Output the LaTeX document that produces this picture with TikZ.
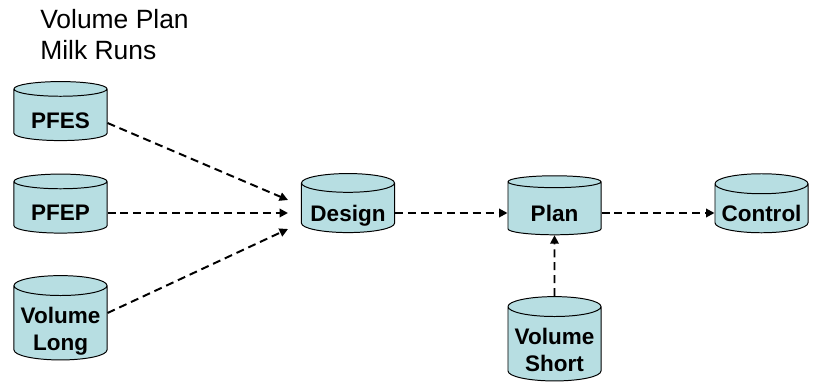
\documentclass[tikz,border=0pt]{standalone}
\usepackage{fontspec}
\setmainfont{Liberation Sans}
\usepackage{tikz}
\usetikzlibrary{shapes.geometric,arrows.meta,positioning}

\definecolor{drumfill}{RGB}{183,222,226}

\begin{document}
\begin{tikzpicture}[
    x=0.025cm, y=-0.025cm,
    drum/.style={cylinder, shape border rotate=90, aspect=0.25, draw, line width=0.7pt,
        fill=drumfill, minimum width=2.325cm, minimum height=1.475cm, inner sep=0pt,
        text height=18.8pt, text depth=0pt,
        align=center, font=\fontsize{16}{19}\selectfont\bfseries},
    tall/.style={minimum height=2cm, text height=38.4pt},
    flow/.style={-{Triangle[length=6pt,width=6pt]}, line width=1.4pt, dash pattern=on 5.7pt off 3.5pt}
]
\useasboundingbox (0,0) rectangle (816,387);

% Heading
\node[anchor=north west, align=left, inner sep=0pt, font=\fontsize{18.8}{22}\selectfont] (title) at (40,9) {Volume Plan\\Milk Runs};

% Sources on the left
\node[drum] (pfes) at (60.5,115) {PFES};
\node[drum] (pfep) at (60.5,207.5) {PFEP};
\node[drum, tall] (vlong) at (60.5,323) {Volume\\Long};

% Main chain
\node[drum] (design) at (348,208) {Design};
\node[drum] (plan) at (554.5,208.5) {Plan};
\node[drum] (control) at (761.5,208.5) {Control};
\node[drum, tall] (vshort) at (554.5,344) {Volume\\Short};

% Arrow ends in front of Design
\coordinate (d-top) at (288,200);
\coordinate (d-mid) at (288,213);
\coordinate (d-low) at (288,229);

% Arrows into Design
\draw[flow] ([yshift=-0.2cm]pfes.east) -- (d-top);
\draw[flow] (pfep.east |- d-mid) -- (d-mid);
\draw[flow] ([yshift=0.25cm]vlong.east) -- (d-low);

% Arrows along the chain
\draw[flow] (design.east |- d-mid) -- (plan.west |- d-mid);
\draw[flow] (plan.east |- d-mid) -- (control.west |- d-mid);
\draw[flow] (vshort) -- (plan);

\end{tikzpicture}
\end{document}
